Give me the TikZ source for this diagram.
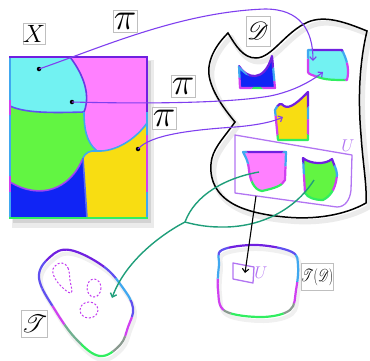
\RequirePackage{fix-cm}
\documentclass[tikz,border=0pt]{standalone}
\usepackage{mathrsfs}
\usepackage{graphicx}
\usetikzlibrary{arrows.meta}
\definecolor{cyanF}{HTML}{72F2F2}
\definecolor{magF}{HTML}{FF80FF}
\definecolor{greenF}{HTML}{62F542}
\definecolor{blueF}{HTML}{1024F5}
\definecolor{yellowF}{HTML}{F8DD12}
\definecolor{arrP}{HTML}{7F3FEF}
\definecolor{arrG}{HTML}{1F9E7A}
\definecolor{uP}{HTML}{B275F2}
\definecolor{dM}{HTML}{C23CF0}
\definecolor{cP}{HTML}{7020E0}
\definecolor{cB}{HTML}{40A8F0}
\definecolor{cM}{HTML}{D040F0}
\definecolor{cG}{HTML}{30EE60}
\definecolor{cBV}{HTML}{6050F0}
\definecolor{cGr}{HTML}{8A9A90}
\definecolor{cGG}{HTML}{70B090}
\tikzset{
  lbl/.style={draw=black!25, fill=white, line width=0.5pt, inner sep=0pt},
  dot/.style={circle, fill=black, inner sep=0pt, minimum size=4.5pt},
  parr/.style={draw=arrP, line width=1.1pt},
  garr/.style={draw=arrG, line width=1.4pt},
  dshape/.style={draw=dM, line width=1pt, dash pattern=on 2pt off 1.8pt},
  uline/.style={draw=uP, line width=1.3pt, line join=round},
  bnd/.style={line width=1.6pt},
}
% gradient-like stroke: #1 centre, #2 sector list macro, #3 width, #4 path
\newcommand{\gstroke}[4]{%
  \foreach \a/\b/\c in #2 {%
    \begin{scope}
      \clip (#1) -- +(\a:500) -- +({(\a+\b)/2}:500) -- +(\b:500) -- cycle;
      \draw[line width=#3, color=\c, line join=round] #4;
    \end{scope}}}
\def\ssec{-135/-45/cP, -45/-10/cB, -10/40/cM, 40/140/cG, 140/200/cM, 200/225/cB}
\def\tdsec{-130/-60/cP, -60/-35/cBV, -35/0/cB, 0/30/cM, 30/50/cGr, 50/130/cG, 130/140/cGr, 140/185/cM, 185/215/cB, 215/230/cBV}
\def\tsec{195/225/cBV, 225/300/cP, -60/-35/cBV, -35/0/cB, 0/20/cBV, 20/42/cM, 42/62/cGr, 62/95/cG, 95/130/cGG, 130/170/cM, 170/195/cBV}
\begin{document}
\begin{tikzpicture}[x=1pt,y=-1pt, >={Straight Barb[length=3.5pt,width=6.5pt]}]
\useasboundingbox (0,0) rectangle (370,360);

% ---------- D blob ----------
\def\Dpath{(228,33) .. controls (236,46) and (243,58) .. (256,58)
  .. controls (272,58) and (285,32) .. (308,22)
  .. controls (325,15) and (345,22) .. (367,31)
  .. controls (359,65) and (358,100) .. (361,135)
  .. controls (363,165) and (367,185) .. (366,203)
  .. controls (345,215) and (315,220) .. (285,217)
  .. controls (262,215) and (242,210) .. (230,202)
  .. controls (214,192) and (208,175) .. (212,158)
  .. controls (215,146) and (226,135) .. (235,122)
  .. controls (225,110) and (214,95) .. (210,80)
  .. controls (205,62) and (216,45) .. (228,33) -- cycle}
\begin{scope}[shift={(3,4)}]
  \draw[black!8, line width=5pt, line join=round] \Dpath;
\end{scope}
\draw[black, line width=1.5pt, line join=miter] \Dpath;

% ---------- small shapes in D ----------
\def\cupP{(239,66) .. controls (246,78) and (264,84) .. (272,56) -- (275,88) -- (240,88) -- cycle}
\fill[blueF] \cupP;
\gstroke{257,84}{\ssec}{2.2pt}{\cupP}

\def\cyP{(308,50) -- (342,50) .. controls (346,58) and (350,68) .. (347,80) .. controls (335,80) and (325,80) .. (318,77) .. controls (312,75) and (308,74) .. (308,72) -- cycle}
\fill[cyanF] \cyP;
\gstroke{328,66}{\ssec}{2.2pt}{\cyP}

\def\yeP{(275,110) .. controls (278,104) and (281,102) .. (284,106) .. controls (290,110) and (300,100) .. (308,92) -- (308,140) -- (278,140) -- cycle}
\fill[yellowF] \yeP;
\gstroke{293,122}{\ssec}{2.2pt}{\yeP}

\draw[uline] (235,135) -- (352,155) -- (351,190) .. controls (350,200) and (345,207) .. (337,207) -- (235,193) -- cycle;

\def\maP{(243,152) -- (286,152) -- (285,180) .. controls (282,186) and (275,188) .. (262,191) .. controls (254,190) and (250,180) .. (249,170) .. controls (248,160) and (245,156) .. (243,152) -- cycle}
\fill[magF] \maP;
\gstroke{265,170}{\ssec}{2.2pt}{\maP}

\def\grP{(303,158) .. controls (310,164) and (325,165) .. (332,159) .. controls (334,165) and (337,170) .. (337,175) .. controls (336,185) and (333,195) .. (323,200) .. controls (315,200) and (308,198) .. (305,193) -- cycle}
\fill[greenF] \grP;
\gstroke{320,180}{\ssec}{2.2pt}{\grP}

% ---------- X square ----------
\fill[black, opacity=0.08] (12,60) rectangle (154,228);
\fill[black, opacity=0.10] (13,61) rectangle (151,223);
\fill[magF] (10,57) rectangle (147,218);
\fill[yellowF] (97,151) .. controls (115,152) and (135,140) .. (147,123) -- (147,218) -- (87,218) -- (83,158) .. controls (85,153) and (90,150) .. (97,151) -- cycle;
\fill[blueF] (10,182) .. controls (40,200) and (70,190) .. (83,158) -- (87,218) -- (10,218) -- cycle;
\fill[greenF] (10,106) .. controls (25,113) and (50,113) .. (84,112) .. controls (84,128) and (86,142) .. (97,151) .. controls (90,150) and (85,153) .. (83,158) .. controls (70,190) and (40,200) .. (10,182) -- cycle;
\fill[cyanF] (10,57) -- (70,57) .. controls (80,70) and (92,92) .. (84,112) .. controls (50,113) and (25,113) .. (10,106) -- cycle;
\draw[bnd, cP!80!cB] (70,57) .. controls (80,70) and (92,92) .. (84,112);
\draw[bnd, cBV] (10,106) .. controls (25,113) and (50,113) .. (84,112);
\draw[bnd, cB] (84,112) .. controls (84,128) and (86,142) .. (97,151);
\draw[bnd, cB] (97,151) .. controls (115,152) and (135,140) .. (147,123);
\draw[bnd, cB] (97,151) .. controls (90,150) and (85,153) .. (83,158);
\draw[bnd, cM!60!cBV] (83,158) .. controls (70,190) and (40,200) .. (10,182);
\draw[bnd, cBV!70!cB] (83,158) -- (87,218);
\draw[line width=2pt, cB] (10,57) -- (10,100);
\draw[line width=2pt, cM] (10,100) -- (10,115);
\draw[line width=2pt, cB] (10,115) -- (10,176);
\draw[line width=2pt, cM] (10,176) -- (10,192);
\draw[line width=2pt, cB] (10,192) -- (10,218);
\draw[line width=2pt, cP] (147,57) -- (147,112);
\draw[line width=2pt, cB] (147,112) -- (147,135);
\draw[line width=2pt, cM] (147,135) -- (147,192);
\draw[line width=2pt, cB] (147,192) -- (147,218);
\draw[line width=2pt, cP, line cap=rect] (10,57) -- (147,57);
\draw[line width=2pt, cG, line cap=rect] (10,218) -- (147,218);

\node[dot] (d1) at (39,69) {};
\node[dot] (d2) at (72,102) {};
\node[dot] (d3) at (138,149) {};

% ---------- purple arrows ----------
\coordinate (e1) at (313,61);
\coordinate (e2) at (323,72);
\coordinate (e3) at (283,117);
\draw[parr, ->] (d1.center) .. controls (100,48) and (180,12) .. (265,9) .. controls (300,9) and (313,30) .. (e1);
\draw[parr, ->] (d2.center) .. controls (150,104) and (230,103) .. (270,96) .. controls (295,91) and (313,80) .. (e2);
\draw[parr, ->] (d3.center) .. controls (150,135) and (190,130) .. (235,127) .. controls (260,125) and (275,121) .. (e3);

% ---------- T(D) blob ----------
\def\TDpath{plot[smooth cycle, tension=0.6] coordinates {(222,250) (257,245) (292,252) (298,266) (296,290) (290,310) (262,317) (225,311) (218,290) (219,265)}}
\begin{scope}[shift={(2,4)}]
  \draw[black!6, line width=4pt] \TDpath;
\end{scope}
\gstroke{257,282}{\tdsec}{2.2pt}{\TDpath}
\draw[uline] (233,263) -- (254,267) -- (253,283) -- (233,279) -- cycle;

% ---------- T blob ----------
\def\Tpath{plot[smooth cycle, tension=0.65] coordinates {(39,278) (50,257) (70,250) (103,266) (123,288) (133,308) (128,327) (120,345) (100,356) (77,340) (55,310)}}
\begin{scope}[shift={(2,4)}]
  \draw[black!6, line width=4pt] \Tpath;
\end{scope}
\gstroke{85,300}{\tsec}{2.2pt}{\Tpath}
\draw[dshape] plot[smooth cycle, tension=0.7] coordinates {(62,263) (68,268) (70,280) (71,293) (59,284) (53,273) (55,266)};
\draw[dshape] (94,288) ellipse [x radius=7, y radius=9];
\draw[dshape] (89,310) ellipse [x radius=9, y radius=8];

% ---------- green arrows ----------
\coordinate (gm) at (259,172);
\coordinate (gg) at (314,180);
\coordinate (gj) at (185,222);
\coordinate (gt) at (112,298);
\draw[garr] (gm) .. controls (225,178) and (195,195) .. (gj);
\draw[garr] (gg) .. controls (295,210) and (260,228) .. (220,227) .. controls (205,227) and (192,224) .. (gj);
\draw[garr, ->] (gj) .. controls (160,235) and (125,262) .. (gt);

% ---------- black arrow ----------
\coordinate (ub) at (256,196);
\coordinate (ut) at (245,273);
\draw[black, line width=1.1pt, ->] (ub) -- (ut);

% ---------- labels ----------
\node[lbl, minimum width=19pt, minimum height=21pt] (lx) at (34,34) {\fontsize{25}{25}\selectfont$X$};
\node[lbl, minimum width=24pt, minimum height=22pt] (pi1) at (125,21) {\fontsize{38}{38}\selectfont$\pi$};
\node[lbl, minimum width=24pt, minimum height=22pt] (pi2) at (183,86) {\fontsize{38}{38}\selectfont$\pi$};
\node[lbl, minimum width=24pt, minimum height=22pt] (pi3) at (164,118) {\fontsize{38}{38}\selectfont$\pi$};
\node[lbl, minimum width=24pt, minimum height=30pt] (ld) at (258,31) {\fontsize{33}{33}\selectfont$\mathscr{D}$};
\node[lbl, minimum width=25pt, minimum height=27pt] (lt) at (34.5,323.5) {\fontsize{25}{25}\selectfont$\mathscr{T}$};
\node[lbl, minimum width=31pt, minimum height=27pt] (ltd) at (317,277) {\scalebox{0.72}[1]{\fontsize{17}{17}\selectfont$\mathscr{T}(\mathscr{D})$}};
\node[text=uP, inner sep=0pt] (lu) at (348,146) {\fontsize{17}{17}\selectfont$U$};
\node[text=uP, inner sep=0pt] (lu2) at (261,273) {\fontsize{17}{17}\selectfont$U$};
\end{tikzpicture}
\end{document}
